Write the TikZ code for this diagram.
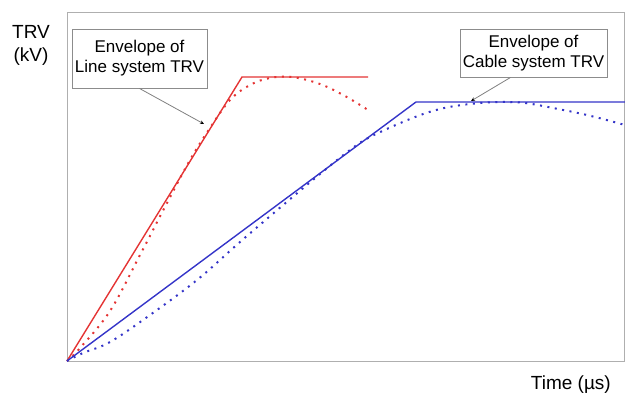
\documentclass[tikz,border=0pt]{standalone}
\usepackage{fontspec}
\setmainfont{Liberation Sans}
\usetikzlibrary{arrows.meta,calc}
\definecolor{trvred}{RGB}{228,52,52}
\definecolor{trvblue}{RGB}{52,52,200}
\definecolor{framegray}{RGB}{175,175,175}
\definecolor{boxgray}{RGB}{140,140,140}
\tikzset{
  envelope/.style={line width=1.4pt},
  response/.style={line width=2pt, dash pattern=on 2pt off 5.5pt},
  callout/.style={draw=boxgray, fill=white, line width=0.9pt, inner sep=1pt,
    align=center, font=\fontsize{17}{20}\selectfont},
  pointer/.style={draw=gray, line width=0.8pt, -{Stealth[length=4pt,width=3.5pt,black]}},
  axislabel/.style={font=\fontsize{19}{23}\selectfont, inner sep=0pt}
}
\begin{document}
\begin{tikzpicture}[x=1pt,y=-1pt]
\useasboundingbox (0,0) rectangle (625,394);

% plot frame
\coordinate (o) at (67,361);
\draw[framegray, line width=1pt] (67,12) rectangle (624,361);

% axis labels
\node[axislabel, align=center] (ylab) at (31,45) {TRV\\(kV)};
\node[axislabel, anchor=east] (xlab) at (611,385) {Time (µs)};

% line system: envelope and response
\draw[trvred, envelope] (o) -- (242,77) -- (368,77);
\draw[trvred, response] plot[smooth, tension=0.6] coordinates {
  (67,361) (80,348) (110,311) (140,255) (167,203) (190,160) (210,128)
  (230,100) (250,85) (270,78) (292,77) (320,84) (345,96) (368,110)};

% cable system: envelope and response
\draw[trvblue, envelope] (o) -- (416,102) -- (625,102);
\draw[trvblue, response] plot[smooth, tension=0.6] coordinates {
  (67,361) (83,353) (110,342) (150,315) (197,280) (240,242) (282,206)
  (320,174) (350,150) (370,137) (410,119) (440,109) (470,104) (500,102)
  (525,103) (553,108) (587,115) (625,125)};

% callouts
\node[callout, minimum width=135pt, minimum height=59pt] (lbox) at (139.5,58.5)
  {Envelope of\\Line system TRV};
\node[callout, minimum width=147pt, minimum height=48pt] (cbox) at (533.5,53)
  {Envelope of\\Cable system TRV};
\coordinate (ltip) at (204,124);
\coordinate (ctip) at (471,101);
\draw[pointer] (lbox.south) -- (ltip);
\draw[pointer] ([xshift=-23pt]cbox.south) -- (ctip);
\end{tikzpicture}
\end{document}
